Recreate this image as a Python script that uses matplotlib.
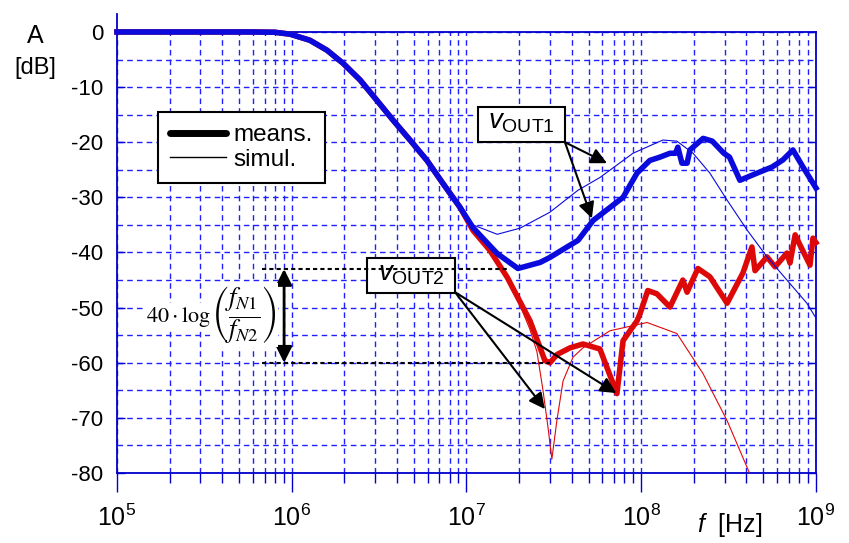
import numpy as np
import matplotlib
matplotlib.use('Agg')
import matplotlib.pyplot as plt
from matplotlib.ticker import LogLocator, MultipleLocator, NullFormatter
from matplotlib.lines import Line2D
from matplotlib.patches import Rectangle

plt.rcParams['font.family'] = ['Liberation Sans', 'DejaVu Sans']
plt.rcParams['mathtext.fontset'] = 'custom'
plt.rcParams['mathtext.rm'] = 'Liberation Sans'
plt.rcParams['mathtext.it'] = 'Liberation Sans:italic'
plt.rcParams['axes.unicode_minus'] = False

# common low-pass roll-off, shared by all curves
f_roll = [1e5, 3e5, 6e5, 8e5, 9.8e5, 1.27e6, 1.59e6, 1.97e6, 2.46e6, 3.07e6,
          3.8e6, 4.75e6, 5.94e6, 7.34e6, 9.18e6]
a_roll = [0, 0, 0, -0.05, -0.4, -1.5, -3.3, -5.7, -8.7, -12.4,
          -16.0, -19.6, -23.3, -27.5, -31.8]

# vOUT1 measured
f_out1_meas = [1.09e7, 1.5e7, 1.97e7, 2.64e7, 3.0e7, 3.76e7, 4.35e7, 5.3e7, 7.87e7,
               9.46e7, 1.12e8, 1.28e8, 1.46e8, 1.57e8, 1.62e8, 1.71e8, 1.83e8, 1.9e8,
               2.26e8, 2.55e8, 2.97e8, 3.2e8, 3.67e8, 4.6e8, 5.6e8, 6.47e8, 7.38e8,
               8.43e8, 1e9]
a_out1_meas = [-35.5, -40.2, -42.9, -41.8, -40.9, -39.0, -37.8, -34.2, -30.0,
               -25.6, -23.3, -22.7, -22.0, -22.0, -20.9, -23.8, -23.8, -21.4,
               -19.3, -19.8, -22.0, -22.7, -26.9, -25.6, -24.5, -23.2, -21.4,
               -24.5, -28.3]

# vOUT1 simulated
f_out1_sim = [1.09e7, 1.5e7, 2.02e7, 3.0e7, 4.35e7, 5.8e7, 8.97e7, 1.33e8, 1.6e8,
              1.98e8, 2.47e8, 3.1e8, 4.03e8, 5.25e8, 6.82e8, 8.87e8, 1e9]
a_out1_sim = [-35.0, -36.7, -35.6, -32.7, -28.7, -26.4, -22.0, -19.6, -19.8,
              -22.0, -25.6, -30.5, -35.9, -40.8, -45.0, -49.2, -51.9]

# vOUT2 measured
f_out2_meas = [1.09e7, 1.36e7, 1.71e7, 2.31e7, 2.81e7, 3.0e7, 3.3e7, 3.91e7, 4.64e7,
               5.8e7, 7.26e7, 7.87e7, 9.46e7, 9.84e7, 1.09e8, 1.23e8, 1.46e8, 1.73e8,
               1.83e8, 2.11e8, 2.47e8, 3.1e8, 3.82e8, 4.3e8, 4.48e8, 5.25e8,
               5.83e8, 6.82e8, 7.1e8, 7.6e8, 8.09e8, 9.24e8, 9.61e8, 1e9]
a_out2_meas = [-36.0, -39.6, -44.5, -52.4, -59.6, -60.0, -58.5, -57.3, -56.6,
               -57.5, -65.6, -56.0, -52.4, -51.1, -46.9, -47.5, -49.9, -45.0,
               -47.2, -42.9, -44.4, -49.2, -43.7, -39.0, -43.3, -40.8,
               -42.6, -40.1, -41.9, -36.8, -38.6, -42.3, -37.4, -38.2]

# vOUT2 simulated
f_out2_sim = [1.09e7, 1.36e7, 1.71e7, 2.02e7, 2.31e7, 2.53e7, 2.74e7, 2.93e7, 3.08e7,
              3.29e7, 3.57e7, 4.07e7, 4.64e7, 6.62e7, 1.08e8, 1.6e8, 2.26e8, 3.1e8, 4.19e8]
a_out2_sim = [-36.0, -39.6, -44.5, -49.5, -54.0, -58.0, -65.0, -71.8, -77.5,
              -70.5, -63.3, -59.0, -57.3, -54.2, -52.7, -54.7, -62.0, -70.5, -80.2]

blue = '#0a0adc'
red = '#dd0808'
grid_blue = '#1f1fff'

fig = plt.figure(figsize=(8.49, 5.43), dpi=100)
ax = fig.add_axes([0.1378, 0.1289, 0.8233, 0.8122])

ax.plot(f_roll + f_out2_meas, a_roll + a_out2_meas, color=red, lw=4.0, clip_on=False, zorder=3,
        solid_joinstyle='round')
ax.plot(f_roll + f_out2_sim, a_roll + a_out2_sim, color=red, lw=0.8, zorder=4)
ax.plot(f_roll + f_out1_sim, a_roll + a_out1_sim, color=blue, lw=0.8, zorder=4)
ax.plot(f_roll + f_out1_meas, a_roll + a_out1_meas, color=blue, lw=4.0, clip_on=False, zorder=5,
        solid_joinstyle='round')

ax.set_xscale('log')
ax.set_xlim(1e5, 1e9)
ax.set_ylim(-80, 0)
ax.xaxis.set_major_locator(LogLocator(base=10, numticks=10))
ax.xaxis.set_minor_locator(LogLocator(base=10, subs=np.arange(2, 10), numticks=100))
ax.xaxis.set_minor_formatter(NullFormatter())
ax.yaxis.set_major_locator(MultipleLocator(10))
ax.yaxis.set_minor_locator(MultipleLocator(5))

ax.grid(True, which='both', linestyle=(0, (4, 3)), color=grid_blue, lw=1.0)
ax.set_axisbelow(True)

for s in ax.spines.values():
    s.set_color('#0000cc')
    s.set_linewidth(1.3)
ax.spines['left'].set_bounds(-80, 3.3)

ax.tick_params(axis='x', which='major', direction='out', length=14, width=1, color='#0000cc',
               labelsize=18, pad=9)
ax.tick_params(axis='x', which='minor', direction='out', length=7, width=1, color='#0000cc')
ax.tick_params(axis='y', which='major', direction='in', length=6, width=1, color='#0000cc',
               labelsize=16, pad=10, right=True)
ax.tick_params(axis='y', which='minor', length=0)

# legend
handles = [Line2D([], [], color='black', lw=5.0, solid_capstyle='round'),
           Line2D([], [], color='black', lw=1.0)]
leg = ax.legend(handles, ['means.', 'simul.'], loc='upper left',
                bbox_to_anchor=(0.0587, 0.8186), borderaxespad=0, fancybox=False,
                framealpha=1, edgecolor='black', fontsize=17.5, handlelength=2.3,
                handletextpad=0.3, labelspacing=0.1, borderpad=0.5)
leg.get_frame().set_linewidth(1.5)

# vOUT labels in boxes
ax.add_patch(Rectangle((0.5165, 0.7506), 0.1245, 0.0794, transform=ax.transAxes,
                       fc='white', ec='black', lw=1.5, zorder=6))
ax.text(0.579, 0.795, r'$v_{\mathrm{OUT1}}$', transform=ax.transAxes, fontsize=20,
        ha='center', va='center', zorder=7)
ax.add_patch(Rectangle((0.3577, 0.408), 0.1258, 0.0795, transform=ax.transAxes,
                       fc='white', ec='black', lw=1.5, zorder=6))
ax.text(0.4206, 0.452, r'$v_{\mathrm{OUT2}}$', transform=ax.transAxes, fontsize=20,
        ha='center', va='center', zorder=7)

arrow = dict(arrowstyle='-|>', color='black', lw=1.5, mutation_scale=24, shrinkA=0, shrinkB=0)
ax.annotate('', xy=(6.37e7, -23.8), xytext=(3.66e7, -20.0), arrowprops=arrow, zorder=8)
ax.annotate('', xy=(5.22e7, -33.8), xytext=(3.66e7, -20.0), arrowprops=arrow, zorder=8)
ax.annotate('', xy=(2.81e7, -68.4), xytext=(8.6e6, -47.2), arrowprops=arrow, zorder=8)
ax.annotate('', xy=(7.2e7, -65.5), xytext=(8.6e6, -47.2), arrowprops=arrow, zorder=8)

# level difference marker
ax.plot([6.76e5, 1.77e7], [-43.0, -43.0], color='black', lw=1.5, ls=(0, (2, 1.5)), zorder=6)
ax.plot([6.76e5, 3.0e7], [-60.0, -60.0], color='black', lw=1.5, ls=(0, (2, 1.5)), zorder=6)
ax.annotate('', xy=(9.04e5, -43.0), xytext=(9.04e5, -60.0),
            arrowprops=dict(arrowstyle='<|-|>', color='black', lw=2, mutation_scale=24,
                            shrinkA=0, shrinkB=0), zorder=8)
fig.text(211 / 849, 1 - 322 / 543, r'$40\cdot\log$', math_fontfamily='stix',
         fontsize=16, ha='right', va='baseline', zorder=7,
         bbox=dict(boxstyle='square,pad=0.1', fc='white', ec='none'))
fig.text(211 / 849, 1 - 315 / 543, r'$\left(\dfrac{f_{N1}}{f_{N2}}\right)$', math_fontfamily='stix',
         fontsize=19, ha='left', va='center', zorder=7,
         bbox=dict(boxstyle='square,pad=0.05', fc='white', ec='none'))

fig.text(35 / 849, 1 - 36 / 543, 'A', ha='center', va='center', fontsize=18)
fig.text(35 / 849, 1 - 68 / 543, '[dB]', ha='center', va='center', fontsize=17)
fig.text(697 / 849, 1 - 525 / 543, r'$f$  [Hz]', ha='left', va='center', fontsize=18)

fig.savefig('out.png', dpi=100)
